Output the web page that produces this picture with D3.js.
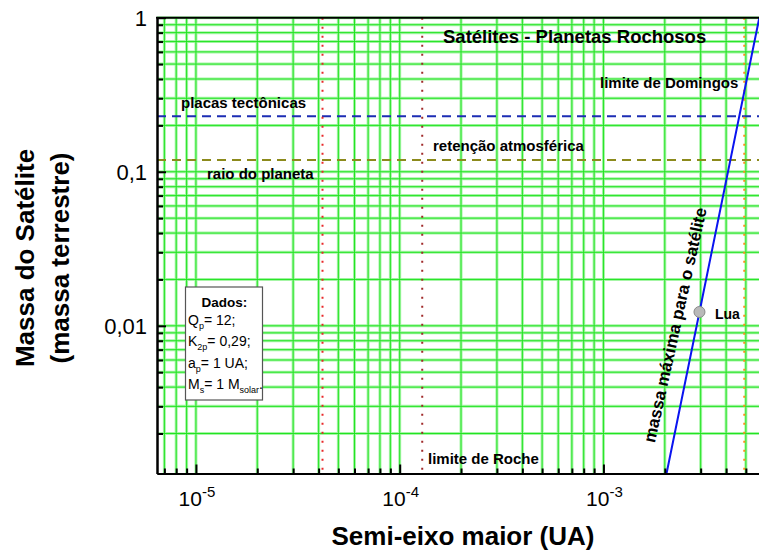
<!DOCTYPE html>
<html>
<head>
<meta charset="utf-8">
<script src="https://cdn.jsdelivr.net/npm/d3@7"></script>
<style>
  html, body { margin: 0; padding: 0; background: #fff; }
  svg { display: block; font-family: "Liberation Sans", Arial, sans-serif; }
</style>
</head>
<body>
<svg id="chart" width="759" height="555"></svg>
<script>
// Axis extents (semi-major axis in AU, satellite mass in Earth masses)
const xDomain = [6.44e-6, 5.8e-3];
const yDomain = [1.1e-3, 1];

// Labelled ticks
const xMajorTicks = [1e-5, 1e-4, 1e-3];
const xTickExponents = ["-5", "-4", "-3"];
const yMajorTicks = [0.01, 0.1, 1];
const yTickLabels = ["0,01", "0,1", "1"];

// Horizontal limits (mass)
const massLimitNames = ["placas tectônicas", "raio do planeta / retenção atmosférica"];
const massLimitValues = [0.229, 0.119];

// Vertical limits (semi-major axis)
const distLimitNames = ["órbita interna", "limite de Roche", "limite de Domingos"];
const distLimitValues = [4.18e-5, 1.29e-4, 4.91e-3];

// Maximum satellite mass curve
const maxMassA = [0.00204, 0.00296, 0.00582];
const maxMassM = [0.0011, 0.0123, 1.0];

// The Moon
const moonA = 0.00296;
const moonM = 0.0123;

// Parameters box
const paramLines = [
  ["Q", "p", "= 12;"],
  ["K", "2p", "= 0,29;"],
  ["a", "p", "= 1 UA;"],
  ["M", "s", "= 1 M", "solar", "."]
];

(function draw() {
  const svg = d3.select("#chart");
  const pLeft = 157, pRight = 759, pTop = 17.7, pBottom = 473.5;

  const x = d3.scaleLog().domain(xDomain).range([pLeft, pRight]);
  const y = d3.scaleLog().domain(yDomain).range([pBottom, pTop]);

  function gridValues(domain) {
    const out = [];
    const lo = Math.floor(Math.log10(domain[0])), hi = Math.ceil(Math.log10(domain[1]));
    for (let e = lo; e <= hi; e++) {
      for (let k = 1; k <= 9; k++) {
        const v = k * Math.pow(10, e);
        if (v > domain[0] * 1.0001 && v <= domain[1] * 1.0001) out.push(v);
      }
    }
    return out;
  }
  const isMajor = (majors, v) => majors.some(m => Math.abs(m - v) / m < 1e-6);
  const xGrid = gridValues(xDomain);
  const yGrid = gridValues(yDomain);

  svg.append("defs").append("clipPath").attr("id", "plotClip")
    .append("rect").attr("x", pLeft).attr("y", pTop)
    .attr("width", pRight - pLeft).attr("height", pBottom - pTop);

  // Grid: soft halo under a bright green core
  const grid = svg.append("g");
  [["#a6f5a6", 3], ["#22e422", 1]].forEach(([col, w]) => {
    grid.append("g").selectAll("line").data(xGrid).join("line")
      .attr("x1", d => x(d)).attr("x2", d => x(d))
      .attr("y1", pTop).attr("y2", pBottom)
      .attr("stroke", col).attr("stroke-width", w);
    grid.append("g").selectAll("line").data(yGrid).join("line")
      .attr("x1", pLeft).attr("x2", pRight)
      .attr("y1", d => y(d)).attr("y2", d => y(d))
      .attr("stroke", col).attr("stroke-width", w);
  });

  const plot = svg.append("g").attr("clip-path", "url(#plotClip)");

  // Horizontal mass limits
  const hColors = ["#1c2db4", "#8c8a1c"];
  plot.selectAll("line.h").data(massLimitValues).join("line")
    .attr("class", "h")
    .attr("x1", pLeft).attr("x2", pRight)
    .attr("y1", d => y(d)).attr("y2", d => y(d))
    .attr("stroke", (d, i) => hColors[i])
    .attr("stroke-width", 2)
    .attr("stroke-dasharray", "9,6");

  // Vertical distance limits
  const vColors = ["#e8282a", "#a02a2a", "#ff8c1a"];
  plot.selectAll("line.v").data(distLimitValues).join("line")
    .attr("class", "v")
    .attr("x1", d => x(d)).attr("x2", d => x(d))
    .attr("y1", pTop).attr("y2", pBottom)
    .attr("stroke", (d, i) => vColors[i])
    .attr("stroke-width", 2)
    .attr("stroke-dasharray", "2,7");

  // Maximum mass curve
  const curve = maxMassA.map((a, i) => [a, maxMassM[i]]);
  plot.append("path")
    .datum(curve)
    .attr("d", d3.line().x(d => x(d[0])).y(d => y(d[1])))
    .attr("fill", "none")
    .attr("stroke", "#0a14f0")
    .attr("stroke-width", 2);

  // Moon marker
  svg.append("circle")
    .attr("cx", x(moonA)).attr("cy", y(moonM)).attr("r", 5.5)
    .attr("fill", "#b9b9b9").attr("stroke", "#8a8a8a").attr("stroke-width", 1);

  // Axes: minor and major ticks point into the plot
  const axisX = svg.append("g").attr("transform", `translate(0,${pBottom})`);
  axisX.call(d3.axisBottom(x).tickValues(xGrid.filter(v => !isMajor(xMajorTicks, v)))
    .tickSize(-5).tickSizeOuter(0).tickFormat(""));
  axisX.append("g").call(d3.axisBottom(x).tickValues(xMajorTicks)
    .tickSize(-9).tickSizeOuter(0).tickFormat(""));
  const axisY = svg.append("g").attr("transform", `translate(${pLeft},0)`);
  axisY.call(d3.axisLeft(y).tickValues(yGrid.filter(v => !isMajor(yMajorTicks, v)))
    .tickSize(-6).tickSizeOuter(0).tickFormat(""));
  axisY.append("g").call(d3.axisLeft(y).tickValues(yMajorTicks)
    .tickSize(-9).tickSizeOuter(0).tickFormat(""));
  svg.selectAll(".domain").attr("stroke", "#000").attr("stroke-width", 2);
  svg.selectAll(".tick line").attr("stroke", "#000").attr("stroke-width", 2);

  // Top frame line
  svg.append("line").attr("x1", pLeft - 1).attr("x2", pRight).attr("y1", pTop).attr("y2", pTop)
    .attr("stroke", "#000").attr("stroke-width", 2);

  // Tick labels
  svg.append("g").selectAll("text").data(yMajorTicks).join("text")
    .attr("x", 147).attr("y", d => y(d))
    .attr("dy", "0.36em")
    .attr("text-anchor", "end")
    .attr("font-size", 22)
    .text((d, i) => yTickLabels[i]);

  const xl = svg.append("g").selectAll("text").data(xMajorTicks).join("text")
    .attr("x", d => x(d) + 1).attr("y", 506)
    .attr("text-anchor", "middle")
    .attr("font-size", 21);
  xl.append("tspan").text("10");
  xl.append("tspan").attr("dy", -9).attr("font-size", 15).text((d, i) => xTickExponents[i]);

  // Axis titles
  svg.append("text").attr("x", 463).attr("y", 545)
    .attr("text-anchor", "middle").attr("font-size", 26).attr("font-weight", "bold")
    .text("Semi-eixo maior (UA)");
  svg.append("text").attr("transform", "translate(34,258) rotate(-90)")
    .attr("text-anchor", "middle").attr("font-size", 26).attr("font-weight", "bold")
    .text("Massa do Satélite");
  svg.append("text").attr("transform", "translate(69,258) rotate(-90)")
    .attr("text-anchor", "middle").attr("font-size", 26).attr("font-weight", "bold")
    .text("(massa terrestre)");

  // Chart title
  svg.append("text").attr("x", 443).attr("y", 43)
    .attr("font-size", 18.5).attr("font-weight", "bold")
    .text("Satélites - Planetas Rochosos");

  // Annotations
  const notes = [
    ["placas tectônicas", 181, 108],
    ["raio do planeta", 207, 179],
    ["retenção atmosférica", 433, 151],
    ["limite de Domingos", 600, 88],
    ["limite de Roche", 428, 464]
  ];
  svg.append("g").selectAll("text").data(notes).join("text")
    .attr("x", d => d[1]).attr("y", d => d[2])
    .attr("font-size", 15).attr("font-weight", "bold")
    .text(d => d[0]);

  svg.append("text").attr("x", 715).attr("y", 319)
    .attr("font-size", 14).attr("font-weight", "bold").text("Lua");

  svg.append("text")
    .attr("transform", "translate(675,325) rotate(-77.5)")
    .attr("text-anchor", "middle").attr("dy", "0.35em")
    .attr("font-size", 17).attr("font-weight", "bold")
    .text("massa máxima para o satélite");

  // Parameters box
  const box = svg.append("g");
  box.append("rect").attr("x", 185.5).attr("y", 287).attr("width", 77).attr("height", 113)
    .attr("fill", "#fff").attr("stroke", "#555").attr("stroke-width", 1.2);
  box.append("text").attr("x", 224.5).attr("y", 307)
    .attr("text-anchor", "middle").attr("font-size", 13.5).attr("font-weight", "bold")
    .text("Dados:");
  paramLines.forEach((parts, i) => {
    const t = box.append("text").attr("x", 188).attr("y", 325 + i * 21.4).attr("font-size", 14);
    parts.forEach((p, j) => {
      const sub = j % 2 === 1;
      t.append("tspan")
        .attr("dy", j === 0 ? 0 : (sub ? 4 : -4))
        .attr("font-size", sub ? 9 : 14)
        .text(p);
    });
  });
})();
</script>
</body>
</html>
